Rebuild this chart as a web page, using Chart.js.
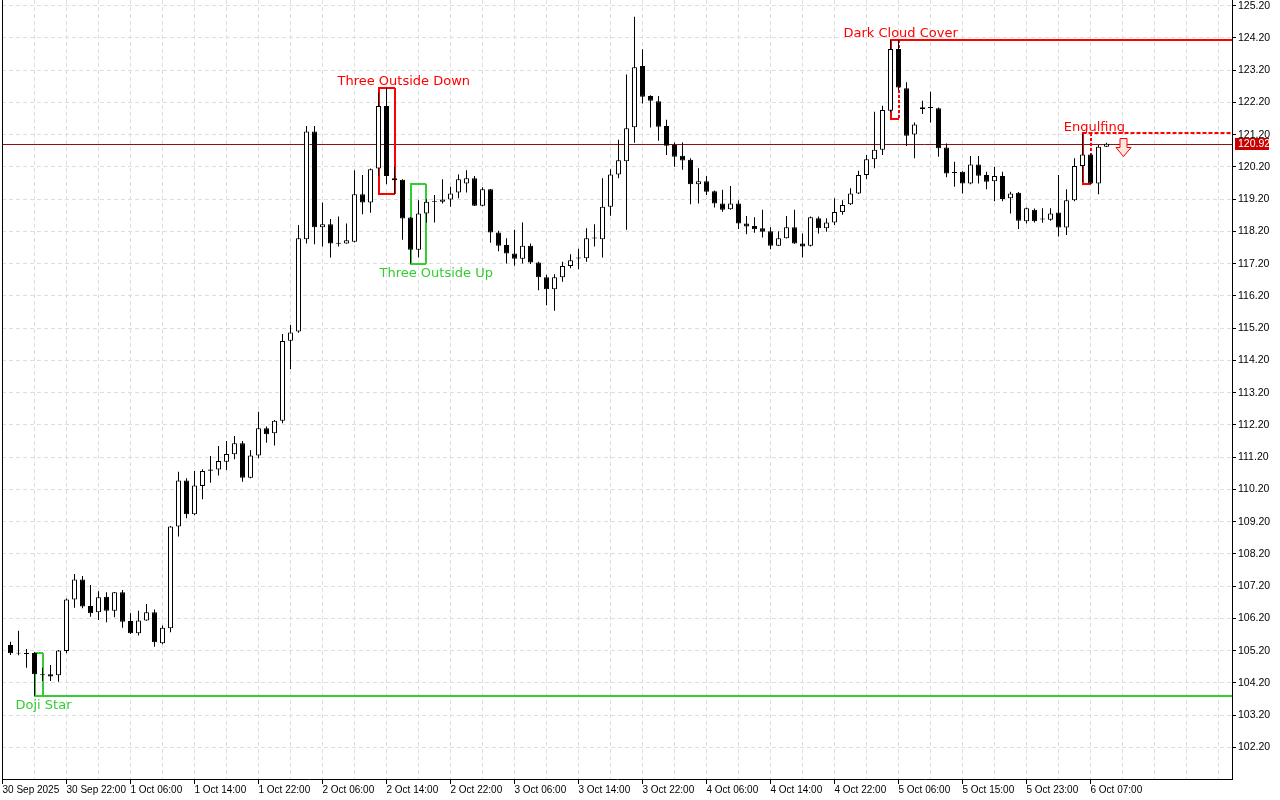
<!DOCTYPE html>
<html>
<head>
<meta charset="utf-8">
<title>Candles</title>
<script src="https://cdn.jsdelivr.net/npm/chart.js@4.4.1/dist/chart.umd.min.js"></script>
<style>
  html, body { margin: 0; padding: 0; background: #fff; }
  canvas { display: block; }
</style>
</head>
<body>
<canvas id="priceChart" width="1280" height="800"></canvas>
<script>
// hourly candles, bar k of the arrays sits at slot k + 1
const opens = [
  105.38, 105.14, 105.13, 105.13, 104.47, 104.47, 104.44, 105.19, 106.79, 107.41,
  106.59, 106.39, 106.87, 106.44, 107.01, 106.12, 105.74, 106.14, 106.39, 105.43,
  105.90, 109.05, 110.48, 109.43, 110.31, 110.82, 110.82, 111.06, 111.29, 111.63,
  110.56, 111.25, 112.10, 111.94, 112.33, 114.81, 115.10, 117.96, 121.30, 118.33,
  118.42, 117.85, 117.83, 117.88, 119.35, 119.10, 120.15, 122.09, 119.85, 119.80,
  118.63, 117.63, 118.76, 119.11, 119.12, 119.19, 119.41, 119.69, 119.85, 119.00,
  119.51, 118.17, 117.78, 117.52, 117.35, 117.76, 117.24, 116.78, 116.41, 116.78,
  117.13, 117.36, 117.37, 117.98, 117.96, 118.97, 119.97, 120.38, 121.43, 123.33,
  122.40, 122.24, 121.47, 120.88, 120.55, 120.42, 119.66, 119.76, 119.45, 119.07,
  118.89, 119.07, 118.45, 118.37, 118.30, 118.21, 117.76, 117.99, 118.33, 117.83,
  117.76, 118.61, 118.30, 118.48, 118.80, 119.04, 119.38, 119.95, 120.44, 120.73,
  121.94, 123.86, 122.64, 121.21, 121.99, 122.06, 122.02, 120.80, 120.04, 120.05,
  119.69, 120.28, 119.95, 119.76, 119.92, 119.23, 119.40, 118.52, 118.87, 118.57,
  118.56, 118.79, 118.32, 119.17, 120.23, 120.59, 119.69, 120.83
];
const highs = [
  105.48, 105.82, 105.25, 105.15, 104.67, 104.76, 105.22, 106.82, 107.58, 107.52,
  107.24, 107.04, 107.01, 107.02, 107.08, 106.36, 106.44, 106.65, 106.48, 105.98,
  109.07, 110.75, 110.55, 110.77, 110.83, 111.24, 111.55, 111.70, 111.86, 111.70,
  111.42, 112.61, 112.15, 112.35, 115.02, 115.30, 118.40, 121.47, 121.47, 119.10,
  118.59, 118.66, 118.45, 120.10, 119.95, 120.15, 122.50, 122.64, 120.21, 119.82,
  118.65, 119.17, 119.20, 119.33, 119.82, 119.59, 119.97, 120.10, 119.92, 119.57,
  119.52, 118.22, 117.99, 118.25, 118.48, 117.83, 117.26, 116.86, 116.87, 117.26,
  117.49, 117.66, 118.30, 118.42, 119.85, 120.13, 121.04, 123.07, 124.86, 123.85,
  122.42, 122.40, 121.66, 120.96, 120.96, 120.47, 120.16, 119.92, 119.47, 119.49,
  119.61, 119.17, 118.68, 118.64, 118.87, 118.33, 118.21, 118.68, 118.87, 118.14,
  118.66, 118.66, 118.61, 119.23, 119.17, 119.54, 120.08, 120.57, 121.91, 122.10,
  124.14, 124.14, 122.83, 121.58, 122.25, 122.53, 122.04, 120.93, 120.36, 120.07,
  120.54, 120.54, 120.05, 120.21, 120.05, 119.43, 119.42, 118.94, 118.91, 118.92,
  118.92, 119.95, 119.51, 120.47, 121.24, 120.61, 120.88, 120.95
];
const lows = [
  105.07, 105.06, 104.67, 103.80, 104.26, 104.26, 104.24, 105.12, 106.53, 106.52,
  106.25, 106.15, 106.08, 106.24, 105.91, 105.72, 105.67, 106.13, 105.32, 105.40,
  105.77, 108.74, 109.31, 109.40, 109.90, 110.41, 110.63, 110.80, 111.14, 110.44,
  110.55, 111.17, 111.65, 111.56, 112.25, 113.93, 115.06, 117.83, 117.80, 117.73,
  117.39, 117.73, 117.82, 117.86, 118.73, 118.78, 119.92, 119.66, 119.38, 117.94,
  117.21, 117.39, 118.48, 118.48, 119.07, 118.97, 119.23, 119.41, 118.99, 118.98,
  117.85, 117.59, 117.21, 117.14, 117.21, 117.19, 116.38, 115.91, 115.74, 116.64,
  117.06, 117.03, 117.26, 117.73, 117.39, 118.69, 119.85, 118.25, 120.95, 122.17,
  121.42, 121.01, 120.57, 120.21, 120.11, 119.04, 119.07, 119.33, 118.94, 118.81,
  118.87, 118.28, 118.11, 118.16, 118.01, 117.65, 117.75, 117.98, 117.82, 117.39,
  117.73, 118.14, 118.19, 118.40, 118.72, 119.02, 119.36, 119.82, 120.16, 120.57,
  121.90, 122.59, 120.85, 120.47, 121.84, 121.58, 120.52, 119.88, 119.59, 119.38,
  119.66, 119.69, 119.51, 119.14, 119.14, 118.76, 118.28, 118.45, 118.48, 118.47,
  118.53, 118.04, 118.09, 119.14, 119.74, 119.67, 119.35, 120.82
];
const closes = [
  105.12, 105.11, 105.10, 104.47, 104.44, 104.40, 105.21, 106.79, 107.41, 106.57,
  106.36, 106.86, 106.44, 107.01, 106.10, 105.74, 106.14, 106.39, 105.46, 105.91,
  109.05, 110.48, 109.43, 110.32, 110.77, 110.78, 111.08, 111.30, 111.63, 110.56,
  111.25, 112.10, 111.91, 112.33, 114.80, 115.07, 117.99, 121.30, 118.33, 118.42,
  117.83, 117.82, 117.93, 119.35, 119.10, 120.13, 122.09, 119.92, 119.79, 118.60,
  117.63, 118.76, 119.12, 119.14, 119.19, 119.38, 119.82, 119.85, 119.00, 119.51,
  118.17, 117.76, 117.52, 117.35, 117.76, 117.24, 116.78, 116.41, 116.78, 117.13,
  117.31, 117.39, 117.99, 118.01, 118.97, 119.97, 120.41, 121.40, 123.29, 122.38,
  122.25, 121.45, 120.86, 120.52, 120.40, 119.66, 119.76, 119.43, 119.07, 118.87,
  119.07, 118.45, 118.35, 118.27, 118.19, 117.76, 117.99, 118.33, 117.83, 117.73,
  118.64, 118.30, 118.48, 118.80, 119.02, 119.38, 119.95, 120.44, 120.73, 121.97,
  123.86, 122.66, 121.17, 121.52, 122.05, 122.03, 120.78, 120.00, 120.01, 119.69,
  120.28, 119.93, 119.74, 119.92, 119.21, 119.38, 118.53, 118.92, 118.52, 118.60,
  118.76, 118.32, 119.17, 120.23, 120.59, 119.69, 120.83, 120.92
];

// time labels, one every 8 slots starting at slot 0
const timeLabels = [
  '30 Sep 2025', '30 Sep 22:00', '1 Oct 06:00', '1 Oct 14:00', '1 Oct 22:00', '2 Oct 06:00',
  '2 Oct 14:00', '2 Oct 22:00', '3 Oct 06:00', '3 Oct 14:00', '3 Oct 22:00', '4 Oct 06:00',
  '4 Oct 14:00', '4 Oct 22:00', '5 Oct 06:00', '5 Oct 15:00', '5 Oct 23:00', '6 Oct 07:00'
];
const priceTicks = [
  102.2, 103.2, 104.2, 105.2, 106.2, 107.2, 108.2, 109.2, 110.2, 111.2, 112.2, 113.2,
  114.2, 115.2, 116.2, 117.2, 118.2, 119.2, 120.2, 121.2, 122.2, 123.2, 124.2, 125.2
];

// candlestick patterns found on the chart
const patternNames = ['Doji Star', 'Three Outside Down', 'Three Outside Up', 'Dark Cloud Cover', 'Engulfing'];
const patternColors = ['#32cd32', '#ff0000', '#32cd32', '#ff0000', '#ff0000'];
const patternFrom = [4, 47, 51, 111, 135];
const patternTo = [5, 49, 53, 112, 136];
const patternTop = [105.12, 122.65, 119.67, 124.14, 121.24];
const patternBottom = [103.80, 119.36, 117.19, 121.69, 119.67];
const labelAt = [1.625, 41.875, 47.125, 105.125, 132.66];
const labelLevel = [103.49, 122.84, 116.88, 124.33, 121.41];
const levelValue = [103.80, null, null, 124.14, 121.24];
const levelFrom = [4, null, null, 112, 135];
const levelDashed = [false, false, false, false, true];
const rightDashed = [false, false, false, true, true];
const arrowAt = 140;
const arrowLevel = 121.10;

const ctx = document.getElementById('priceChart').getContext('2d');

const wickData = highs.map((h, k) => ({ x: k + 1, y: [lows[k], h] }));
const bodyData = opens.map((o, k) => ({ x: k + 1, y: [o, closes[k]] }));
const bodyColors = opens.map((o, k) => closes[k] > o ? '#ffffff' : '#000000');

function noPadding(scale) {
  scale.paddingTop = 0;
  scale.paddingBottom = 0;
  scale.paddingLeft = 0;
  scale.paddingRight = 0;
}

function strokeLine(c, x1, y1, x2, y2) {
  c.beginPath();
  c.moveTo(x1, y1);
  c.lineTo(x2, y2);
  c.stroke();
}

function timeLabel(v) {
  return (v % 8 === 0 && timeLabels[v / 8]) ? timeLabels[v / 8] : '';
}

const patternPlugin = {
  id: 'patternMarks',
  beforeDatasetsDraw(chart) {
    const { ctx: c, chartArea: area, scales: { x, y } } = chart;
    c.save();
    c.beginPath();
    c.rect(area.left, area.top, area.right - area.left, area.bottom - area.top);
    c.clip();

    // last price line
    const py = Math.round(y.getPixelForValue(closes[closes.length - 1])) + 0.5;
    c.strokeStyle = '#8e1010';
    c.lineWidth = 1;
    strokeLine(c, area.left, py, area.right, py);

    patternNames.forEach((name, p) => {
      const x1 = Math.round(x.getPixelForValue(patternFrom[p]));
      const x2 = Math.round(x.getPixelForValue(patternTo[p]));
      const y1 = Math.round(y.getPixelForValue(patternTop[p]));
      const y2 = Math.round(y.getPixelForValue(patternBottom[p]));
      c.strokeStyle = patternColors[p];
      c.lineWidth = 2;
      c.setLineDash([]);
      strokeLine(c, x1, y1 - 1, x1, y2 + 1);
      strokeLine(c, x1, y2, x2, y2);
      if (!levelDashed[p]) strokeLine(c, x1, y1, x2, y1);
      c.setLineDash(rightDashed[p] ? [3, 2] : []);
      strokeLine(c, x2, y1, x2, y2);
      if (levelValue[p] !== null) {
        const ly = Math.round(y.getPixelForValue(levelValue[p]));
        c.setLineDash(levelDashed[p] ? [4, 2] : []);
        strokeLine(c, x.getPixelForValue(levelFrom[p]), ly, area.right, ly);
      }
      c.setLineDash([]);
    });
    c.restore();
  },
  afterDatasetsDraw(chart) {
    const { ctx: c, scales: { x, y } } = chart;
    c.save();
    c.font = '13px "DejaVu Sans"';
    c.textAlign = 'left';
    c.textBaseline = 'middle';
    patternNames.forEach((name, p) => {
      c.fillStyle = patternColors[p];
      c.fillText(name, x.getPixelForValue(labelAt[p]), y.getPixelForValue(labelLevel[p]));
    });

    // sell arrow
    const cx = Math.round(x.getPixelForValue(arrowAt)) + 0.5;
    const top = Math.round(y.getPixelForValue(arrowLevel)) + 0.5;
    c.beginPath();
    c.moveTo(cx - 3.5, top);
    c.lineTo(cx + 3.5, top);
    c.lineTo(cx + 3.5, top + 9);
    c.lineTo(cx + 7.5, top + 9);
    c.lineTo(cx, top + 18);
    c.lineTo(cx - 7.5, top + 9);
    c.lineTo(cx - 3.5, top + 9);
    c.closePath();
    c.fillStyle = '#ffe6de';
    c.fill();
    c.strokeStyle = '#ff0000';
    c.lineWidth = 1;
    c.stroke();
    c.restore();
  },
  afterDraw(chart) {
    const { ctx: c, chartArea: area, scales: { y } } = chart;
    c.save();
    c.fillStyle = '#000000';
    c.fillRect(area.left, area.top, 1, area.bottom - area.top);

    // last price tag on the axis
    const last = closes[closes.length - 1];
    const py = Math.round(y.getPixelForValue(last));
    c.fillStyle = '#c80000';
    c.fillRect(area.right + 3, py - 6, 34, 12);
    c.fillStyle = '#ffffff';
    c.font = '10.5px "Liberation Sans"';
    c.textAlign = 'left';
    c.textBaseline = 'middle';
    c.fillText(last.toFixed(2), area.right + 6, py + 0.5);
    c.restore();
  }
};

new Chart(ctx, {
  type: 'bar',
  data: {
    datasets: [{
      label: 'wick',
      data: wickData,
      backgroundColor: '#000000',
      borderWidth: 0,
      barThickness: 1,
      grouped: false,
      inflateAmount: 0,
      order: 2
    }, {
      label: 'body',
      data: bodyData,
      backgroundColor: bodyColors,
      borderColor: '#000000',
      borderWidth: 1,
      borderSkipped: false,
      barThickness: 5,
      grouped: false,
      inflateAmount: 0,
      order: 1
    }]
  },
  options: {
    responsive: false,
    animation: false,
    devicePixelRatio: 1,
    layout: { padding: { left: 2, right: 0, top: 0, bottom: 0 } },
    plugins: {
      legend: { display: false },
      tooltip: { enabled: false }
    },
    scales: {
      x: {
        type: 'linear',
        min: -0.0625,
        max: 153.6875,
        offset: false,
        afterBuildTicks: scale => {
          const ticks = [];
          for (let v = 0; v <= 152; v += 4) ticks.push({ value: v });
          scale.ticks = ticks;
        },
        afterFit: scale => {
          scale.height = 21;
          noPadding(scale);
        },
        grid: {
          offset: false,
          color: '#dedede',
          tickLength: 5,
          tickColor: c => (c.tick && timeLabel(c.tick.value)) ? '#000000' : 'rgba(0,0,0,0)'
        },
        border: { display: true, color: '#000000', dash: [4, 3] },
        ticks: {
          autoSkip: false,
          maxRotation: 0,
          align: 'start',
          padding: 0,
          color: '#000000',
          font: { family: 'Liberation Sans', size: 10 },
          callback: v => timeLabel(v)
        }
      },
      y: {
        position: 'right',
        min: 101.222,
        max: 125.377,
        afterBuildTicks: scale => {
          scale.ticks = priceTicks.map(v => ({ value: v }));
        },
        afterFit: scale => {
          scale.width = 48;
          noPadding(scale);
        },
        grid: {
          color: '#dedede',
          tickLength: 4,
          tickColor: '#000000'
        },
        border: { display: true, color: '#000000', dash: [4, 3] },
        ticks: {
          padding: 2,
          color: '#000000',
          font: { family: 'Liberation Sans', size: 10.5 },
          callback: v => v.toFixed(2)
        }
      }
    }
  },
  plugins: [patternPlugin]
});
</script>
</body>
</html>
